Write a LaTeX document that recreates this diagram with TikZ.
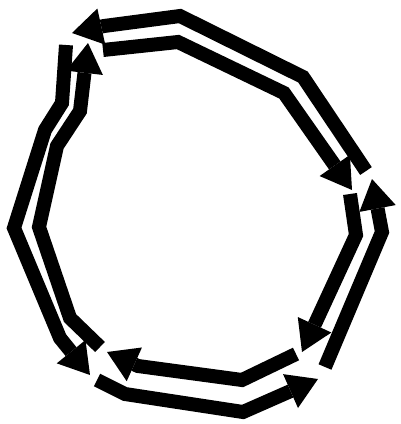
\documentclass[tikz,border=0pt]{standalone}
\usetikzlibrary{arrows.meta}
\begin{document}
\begin{tikzpicture}[x=1pt,y=-1pt,
  band/.style={line width=14pt, line join=miter, line cap=butt,
    -{Triangle[width=37pt,length=30pt,line width=0pt]}}]
\useasboundingbox (0,0) rectangle (400,424);
% outer ring (counter-clockwise)
\coordinate (ot0) at (366,171);
\coordinate (ot1) at (303,77);
\coordinate (ot2) at (180,16);
\coordinate (ot3) at (104,26);
\coordinate (ot4) at (72,33);
\coordinate (ol0) at (66,45);
\coordinate (ol1) at (62,103);
\coordinate (ol2) at (45,130);
\coordinate (ol3) at (14,228);
\coordinate (ol4) at (60,338);
\coordinate (ol5) at (90,375);
\coordinate (ob0) at (97,380);
\coordinate (ob1) at (125,394);
\coordinate (ob2) at (243,412);
\coordinate (ob3) at (318,379);
\coordinate (or0) at (325,367);
\coordinate (or1) at (382,232);
\coordinate (or2) at (372,179);
% inner ring (clockwise)
\coordinate (it0) at (103,50);
\coordinate (it1) at (178,42);
\coordinate (it2) at (284,93);
\coordinate (it3) at (352,190);
\coordinate (ir0) at (350,194);
\coordinate (ir1) at (356,235);
\coordinate (ir2) at (302,352);
\coordinate (ib0) at (296,354);
\coordinate (ib1) at (242,380);
\coordinate (ib2) at (138,366);
\coordinate (ib3) at (107,352);
\coordinate (il0) at (100,347);
\coordinate (il1) at (70,318);
\coordinate (il2) at (39,227);
\coordinate (il3) at (57,146);
\coordinate (il4) at (80,111);
\coordinate (il5) at (88,43);
\draw[band] (ot0) -- (ot1) -- (ot2) -- (ot3) -- (ot4);
\draw[band] (ol0) -- (ol1) -- (ol2) -- (ol3) -- (ol4) -- (ol5);
\draw[band] (ob0) -- (ob1) -- (ob2) -- (ob3);
\draw[band] (or0) -- (or1) -- (or2);
\draw[band] (it0) -- (it1) -- (it2) -- (it3);
\draw[band] (ir0) -- (ir1) -- (ir2);
\draw[band] (ib0) -- (ib1) -- (ib2) -- (ib3);
\draw[band] (il0) -- (il1) -- (il2) -- (il3) -- (il4) -- (il5);
\end{tikzpicture}
\end{document}
